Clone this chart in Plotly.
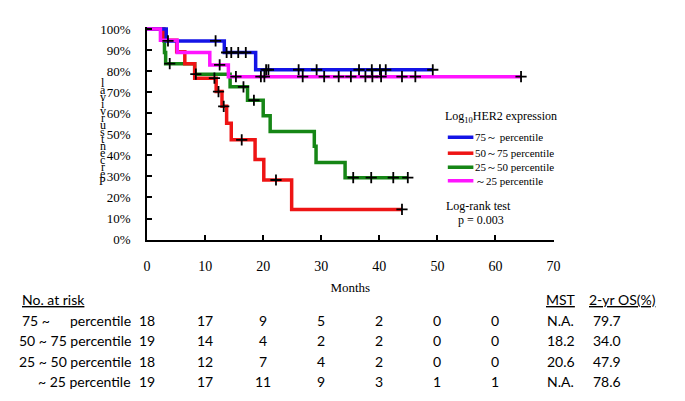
import numpy as np
import plotly.graph_objects as go

# the page body has an 8px default margin, so the figure is drawn 8px in
# from the window's top-left corner; positions below are window pixels
OFF = 8
W, H = 685 - OFF, 401 - OFF

GROUPS = ['75～ percentile', '50～75 percentile', '25～50 percentile', '～25 percentile']
COLORS = ['#1414e6', '#ee1414', '#168616', '#ff14ff']

# Kaplan-Meier steps (months, % surviving)
blue_t = [0, 3.3, 13.3, 18.7, 49.2]
blue_s = [100, 94.4, 88.9, 80.7, 80.7]
blue_cens = [3.6, 11.8, 13.7, 14.5, 15.7, 17.0, 20.5, 20.9, 26.1, 29.2, 36.5, 38.7, 40.1, 41.1, 49.2]

red_t = [0, 2.8, 5.1, 6.5, 8.2, 11.9, 12.9, 13.7, 14.5, 18.6, 20.1, 24.9, 43.9]
red_s = [100, 94.7, 89.2, 83.5, 76.7, 70.3, 63.3, 55.3, 47.4, 38.0, 28.3, 14.3, 14.3]
red_cens = [11.6, 12.3, 13.2, 16.3, 22.2, 43.9]

green_t = [0, 2.9, 3.0, 3.2, 8.2, 14.3, 17.3, 20.0, 21.2, 28.8, 29.1, 34.1, 44.9]
green_s = [100, 94.4, 88.9, 83.6, 78.6, 72.6, 66.2, 58.8, 51.3, 44.3, 36.6, 29.4, 29.4]
green_cens = [3.9, 8.4, 16.6, 18.4, 35.5, 38.6, 42.4, 44.9]

mag_t = [0, 2.3, 5.2, 10.8, 14.0, 64.4]
mag_s = [100, 94.7, 88.9, 83.0, 77.4, 77.4]
mag_cens = [12.5, 15.3, 19.6, 20.2, 26.8, 30.5, 33.0, 35.1, 37.6, 38.8, 40.3, 43.9, 46.2, 64.4]

y_ticks = list(range(0, 101, 10))
y_tick_text = [f'{v}%' for v in y_ticks]

# number at risk table
risk_months = [0, 10, 20, 30, 40, 50, 60]
risk_blue = [18, 17, 9, 5, 2, 0, 0]
risk_red = [19, 14, 4, 2, 2, 0, 0]
risk_green = [18, 12, 7, 4, 2, 0, 0]
risk_mag = [19, 17, 11, 9, 3, 1, 1]
mst = ['N.A.', '18.2', '20.6', 'N.A.']
os2 = ['79.7', '34.0', '47.9', '78.6']

curves = [(blue_t, blue_s, blue_cens), (red_t, red_s, red_cens),
          (green_t, green_s, green_cens), (mag_t, mag_s, mag_cens)]
risks = [risk_blue, risk_red, risk_green, risk_mag]

SERIF = 'Liberation Serif, DejaVu Serif, serif'
SANS = 'Lato, Open Sans, sans-serif'


def px_x(p):
    return (p - OFF) / W


def px_y(p):
    return 1 - (p - OFF) / H


def surv_at(t, s, c):
    idx = np.searchsorted(np.array(t), np.array(c), side='right') - 1
    return [s[i] for i in idx]


fig = go.Figure()

draw_order = [2, 1, 0, 3]
for k in draw_order:
    t, s, c = curves[k]
    fig.add_trace(go.Scatter(
        x=t, y=s, mode='lines', line=dict(color=COLORS[k], width=3.5, shape='hv'),
        name=GROUPS[k], showlegend=False,
    ))
for k in draw_order:
    t, s, c = curves[k]
    fig.add_trace(go.Scatter(
        x=c, y=surv_at(t, s, c), mode='markers', showlegend=False,
        marker=dict(symbol='cross-thin', size=8, line=dict(color='black', width=1.8)),
        cliponaxis=False,
    ))

ann = []
shapes = []


def text(x, y, s, font, anchor='center', xref='paper'):
    ann.append(dict(x=x, y=y, xref=xref, yref='paper', xanchor=anchor, yanchor='middle',
                    text=s, showarrow=False, font=font))


# stacked y-axis title letters
for i, ch in enumerate('lavivrustnecreP'):
    text(px_x(100), px_y(80 + i * 7.3), ch, dict(family=SERIF, size=12, color='black'))

# legend block
lfont = dict(family=SERIF, size=11, color='black')
text(px_x(446), px_y(116), 'Log<sub>10</sub>HER2 expression', dict(family=SERIF, size=12, color='black'), 'left')
leg_y = [136.5, 153, 167.5, 181.5]
for k in range(4):
    shapes.append(dict(type='line', xref='paper', yref='paper',
                       x0=px_x(451), x1=px_x(477), y0=px_y(leg_y[k]), y1=px_y(leg_y[k]),
                       line=dict(color=COLORS[k], width=3.5)))
    text(px_x(477), px_y(leg_y[k]), GROUPS[k], lfont, 'left')

text(px_x(447), px_y(208), 'Log-rank test', dict(family=SERIF, size=12, color='black'), 'left')
text(px_x(485), px_y(222), 'p = 0.003', dict(family=SERIF, size=12, color='black'))

# at-risk table
tfont = dict(family=SANS, size=14, color='black')
text(px_x(16), px_y(304), '<u>No. at risk</u>', tfont, 'left')
text(px_x(566), px_y(304), '<u>MST</u>', tfont)
text(px_x(629), px_y(304), '<u>2-yr OS(%)</u>', tfont)

row_y = [326, 347, 368, 389]
row_labels = ['percentile', '50 ~ 75 percentile', '25 ~ 50 percentile', '~ 25 percentile']
text(px_x(16), px_y(row_y[0]), '75 ~', tfont, 'left')
for r in range(4):
    text(px_x(131), px_y(row_y[r]), row_labels[r], tfont, 'right')
    for m, n in zip(risk_months, risks[r]):
        text(m, px_y(row_y[r]), str(n), tfont, 'center', 'x')
    text(px_x(566), px_y(row_y[r]), mst[r], tfont)
    text(px_x(613), px_y(row_y[r]), os2[r], tfont)

fig.update_layout(
    width=W, height=H,
    margin=dict(l=0, r=0, t=0, b=0),
    paper_bgcolor='white', plot_bgcolor='white',
    font=dict(family=SERIF, size=13, color='black'),
    showlegend=False,
    annotations=ann,
    shapes=shapes,
)
fig.update_xaxes(
    domain=[px_x(145.3), px_x(558.5)], range=[0, 70], dtick=10,
    showline=True, linewidth=2, linecolor='black',
    ticks='inside', ticklen=5, tickwidth=1.5, tickcolor='black',
    showgrid=False, zeroline=False,
    tickfont=dict(family=SERIF, size=14, color='black'), ticklabelstandoff=13,
    title=dict(text='Months', font=dict(family=SERIF, size=13, color='black'), standoff=10),
)
fig.update_yaxes(
    domain=[px_y(242.3), px_y(22.5)], range=[0, 101],
    tickmode='array', tickvals=y_ticks, ticktext=y_tick_text,
    showline=True, linewidth=2, linecolor='black',
    ticks='inside', ticklen=5, tickwidth=1.5, tickcolor='black',
    showgrid=False, zeroline=False,
    tickfont=dict(family=SERIF, size=13, color='black'), ticklabelstandoff=12,
)

fig.write_html("out.html")
